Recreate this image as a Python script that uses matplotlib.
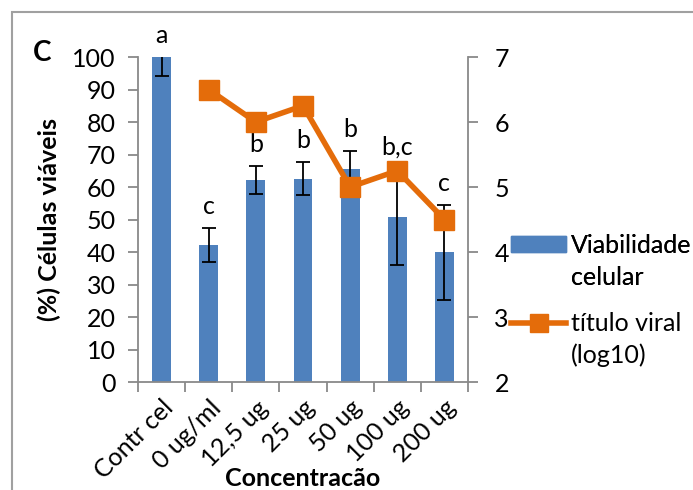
import matplotlib
matplotlib.use("Agg")
import matplotlib.pyplot as plt
import numpy as np
from matplotlib.patches import Rectangle

plt.rcParams['font.family'] = ['Lato', 'DejaVu Sans']

# dados
categorias = ['Contr cel', '0 ug/ml', '12,5 ug', '25 ug', '50 ug', '100 ug', '200 ug']
viabilidade = [100, 42.2, 62.3, 62.6, 65.5, 50.9, 39.9]
erro = [5.8, 5.2, 4.3, 5.2, 5.7, 14.9, 14.6]
letras = ['a', 'c', 'b', 'b', 'b', 'b,c', 'c']
titulo_viral = [np.nan, 6.5, 6.0, 6.25, 5.0, 5.25, 4.5]

azul = '#4F81BD'
laranja = '#E46C0A'
cinza = '#898989'
fs = 18

fig = plt.figure(figsize=(6.93, 4.9), dpi=100)
# borda da area do grafico
fig.patches.append(Rectangle((12 / 693, -0.1), 1.2, (490 - 12) / 490 + 0.1,
                             transform=fig.transFigure, fill=False,
                             edgecolor='#A0A0A0', linewidth=1.5))

ax = fig.add_axes([138 / 693, 108 / 490, 330 / 693, 325 / 490])
x = np.arange(len(categorias))

ax.bar(x, viabilidade, width=0.4, color=azul, zorder=2)
ax.errorbar(x, viabilidade, yerr=erro, fmt='none', ecolor='black',
            elinewidth=1.3, capsize=5, capthick=1.3, zorder=3)

for xi, v, e, l in zip(x, viabilidade, erro, letras):
    top = min(v + e, 100)
    ax.annotate(l, (xi, top), xytext=(0, 7), textcoords='offset points',
                ha='center', va='bottom', fontsize=fs)

ax.set_xlim(-0.5, len(categorias) - 0.5)
ax.set_ylim(0, 100)
ax.set_yticks(np.arange(0, 101, 10))
ax.set_xticks(x)
ax.set_xticklabels(categorias, rotation=45, ha='right', rotation_mode='anchor')
ax.set_xticks(np.arange(-0.5, len(categorias), 1), minor=True)
ax.tick_params(axis='x', which='major', length=0, labelsize=fs, pad=10)
ax.tick_params(axis='x', which='minor', length=7, color=cinza, width=1.3)
ax.tick_params(axis='y', length=7, color=cinza, width=1.3, labelsize=fs, pad=9)
for s in ['top', 'right']:
    ax.spines[s].set_visible(False)
for s in ['left', 'bottom']:
    ax.spines[s].set_color(cinza)
    ax.spines[s].set_linewidth(1.3)
ax.set_ylabel('(%) Células viáveis', fontsize=fs, fontweight='bold', labelpad=8)

ax2 = ax.twinx()
ax2.plot(x, titulo_viral, color=laranja, linewidth=4, marker='s',
         markersize=14, zorder=4)
ax2.set_ylim(2, 7)
ax2.set_yticks(np.arange(2, 8, 1))
ax2.tick_params(axis='y', length=7, color=cinza, width=1.3, labelsize=fs, pad=12)
for s in ['top', 'left', 'bottom']:
    ax2.spines[s].set_visible(False)
ax2.spines['right'].set_color(cinza)
ax2.spines['right'].set_linewidth(1.3)

fig.text(303 / 693, 1 - 478 / 490, 'Concentracão', fontsize=fs,
         fontweight='bold', ha='center', va='center')
fig.text(42 / 693, 1 - 53 / 490, 'C', fontsize=20, fontweight='bold',
         ha='center', va='center')

# legenda: simbolo alinhado com a primeira linha do texto
h1 = Rectangle((0, 0), 1, 1, color=azul)
h2, = ax2.plot([], [], color=laranja, linewidth=4, marker='s', markersize=13)
vazio = Rectangle((0, 0), 1, 1, alpha=0)
leg_kw = dict(loc='upper left', frameon=False, fontsize=fs, handlelength=2.2,
              handleheight=0.6, handletextpad=0.2, labelspacing=0.35,
              borderaxespad=0, borderpad=0)
leg1 = fig.legend([h1, vazio], ['Viabilidade', 'celular'],
                  bbox_to_anchor=(511 / 693, 1 - 234 / 490), **leg_kw)
fig.legend([h2, vazio], ['título viral', '(log10)'],
           bbox_to_anchor=(511 / 693, 1 - 312 / 490), **leg_kw)
fig.add_artist(leg1)

fig.savefig('out.png', dpi=100)
